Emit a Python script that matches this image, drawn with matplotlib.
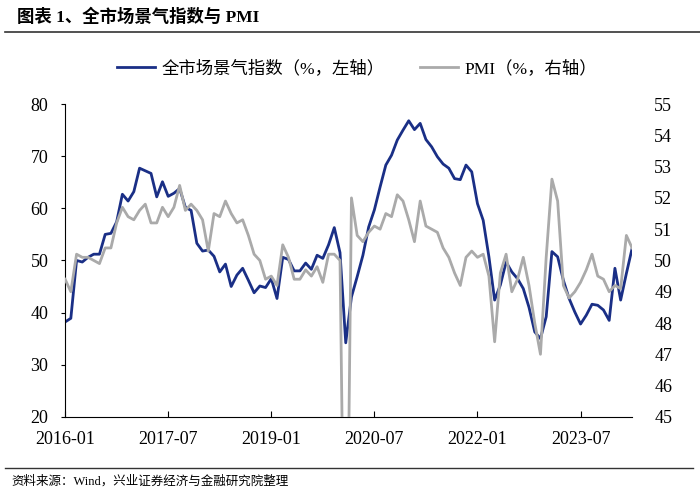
import matplotlib
matplotlib.use("Agg")
from matplotlib import pyplot as plt
from matplotlib.lines import Line2D

# 月份 2016-01 ... 2024-04
months = ["%d-%02d" % (2016 + k // 12, k % 12 + 1) for k in range(100)]

# 全市场景气指数（左轴）
jingqi = [38.2, 38.9, 50.0, 49.7, 50.6, 51.2, 51.2, 55.0, 55.2, 57.4, 62.7, 61.4,
          63.2, 67.7, 67.2, 66.7, 62.2, 65.1, 62.3, 62.9, 63.8, 60.2, 59.6, 53.3,
          51.8, 52.0, 50.8, 47.8, 49.3, 45.0, 47.2, 48.5, 46.2, 43.8, 45.1, 44.8,
          46.5, 42.7, 50.6, 50.2, 48.0, 48.0, 49.5, 48.3, 51.0, 50.4, 53.0, 56.3,
          51.5, 34.2, 43.0, 46.9, 51.0, 56.4, 59.7, 64.1, 68.3, 70.2, 73.1, 75.0,
          76.8, 75.1, 76.3, 73.2, 71.8, 69.9, 68.5, 67.7, 65.7, 65.5, 68.3, 67.0,
          60.9, 57.7, 50.7, 42.4, 45.3, 49.7, 47.8, 46.5, 44.6, 41.0, 36.3, 35.0,
          39.2, 51.7, 50.7, 46.2, 42.7, 40.1, 37.8, 39.5, 41.6, 41.4, 40.5, 38.5,
          48.5, 42.4, 47.5, 52.3]

# PMI（右轴）
pmi = [49.4, 49.0, 50.2, 50.1, 50.1, 50.0, 49.9, 50.4, 50.4, 51.2, 51.7, 51.4,
       51.3, 51.6, 51.8, 51.2, 51.2, 51.7, 51.4, 51.7, 52.4, 51.6, 51.8, 51.6,
       51.3, 50.3, 51.5, 51.4, 51.9, 51.5, 51.2, 51.3, 50.8, 50.2, 50.0, 49.4,
       49.5, 49.2, 50.5, 50.1, 49.4, 49.4, 49.7, 49.5, 49.8, 49.3, 50.2, 50.2,
       50.0, 35.7, 52.0, 50.8, 50.6, 50.9, 51.1, 51.0, 51.5, 51.4, 52.1, 51.9,
       51.3, 50.6, 51.9, 51.1, 51.0, 50.9, 50.4, 50.1, 49.6, 49.2, 50.1, 50.3,
       50.1, 50.2, 49.5, 47.4, 49.6, 50.2, 49.0, 49.4, 50.1, 49.2, 48.0, 47.0,
       50.1, 52.6, 51.9, 49.2, 48.8, 49.0, 49.3, 49.7, 50.2, 49.5, 49.4, 49.0,
       49.2, 49.1, 50.8, 50.4]

tick_pos = [0, 18, 36, 54, 72, 90]

serif_cjk = ["Liberation Serif", "Noto Sans CJK SC"]
plt.rcParams["font.family"] = serif_cjk

blue = "#1a2f86"
gray = "#aaaaaa"

fig = plt.figure(figsize=(7, 4.98), dpi=100)
ax = fig.add_axes([0.093, 0.163, 0.81, 0.628])
ax2 = ax.twinx()

x = list(range(len(months)))
ax.plot(x, jingqi, color=blue, lw=2.0)
ax2.plot(x, pmi, color=gray, lw=2.0)

ax.set_xlim(0, 99)
ax.set_ylim(20, 80)
ax2.set_ylim(45, 55)
ax.set_yticks(range(20, 81, 10))
ax2.set_yticks(range(45, 56))
ax.set_xticks(tick_pos)
ax.set_xticklabels([months[p] for p in tick_pos])

for a in (ax, ax2):
    a.spines["top"].set_visible(False)
    a.spines["right"].set_visible(False)
ax2.spines["left"].set_visible(False)
ax2.spines["bottom"].set_visible(False)

ax.tick_params(axis="y", direction="out", length=3, labelsize=13, pad=9)
ax.tick_params(axis="x", direction="in", length=4, labelsize=13, pad=10)
ax2.tick_params(axis="y", length=0, labelsize=13, pad=16)

handles = [Line2D([], [], color=blue, lw=2.0), Line2D([], [], color=gray, lw=2.0)]
fig.legend(handles, ["全市场景气指数（%，左轴）", "PMI（%，右轴）"],
           loc="center", bbox_to_anchor=(0.51, 0.863), ncol=2, frameon=False,
           fontsize=12.5, handlelength=2.2, columnspacing=2.0, handletextpad=0.4)

fig.text(0.024, 0.966, "图表 1、全市场景气指数与 PMI", fontsize=12.5,
         fontweight="bold", va="center", ha="left")
fig.add_artist(Line2D([0.007, 1.0], [0.936, 0.936], color="#333333", lw=1.2))
fig.add_artist(Line2D([0.007, 0.99], [0.06, 0.06], color="#333333", lw=1.0))
fig.text(0.017, 0.033, "资料来源：Wind，兴业证券经济与金融研究院整理", fontsize=9,
         va="center", ha="left")

fig.savefig("out.png", dpi=100)
